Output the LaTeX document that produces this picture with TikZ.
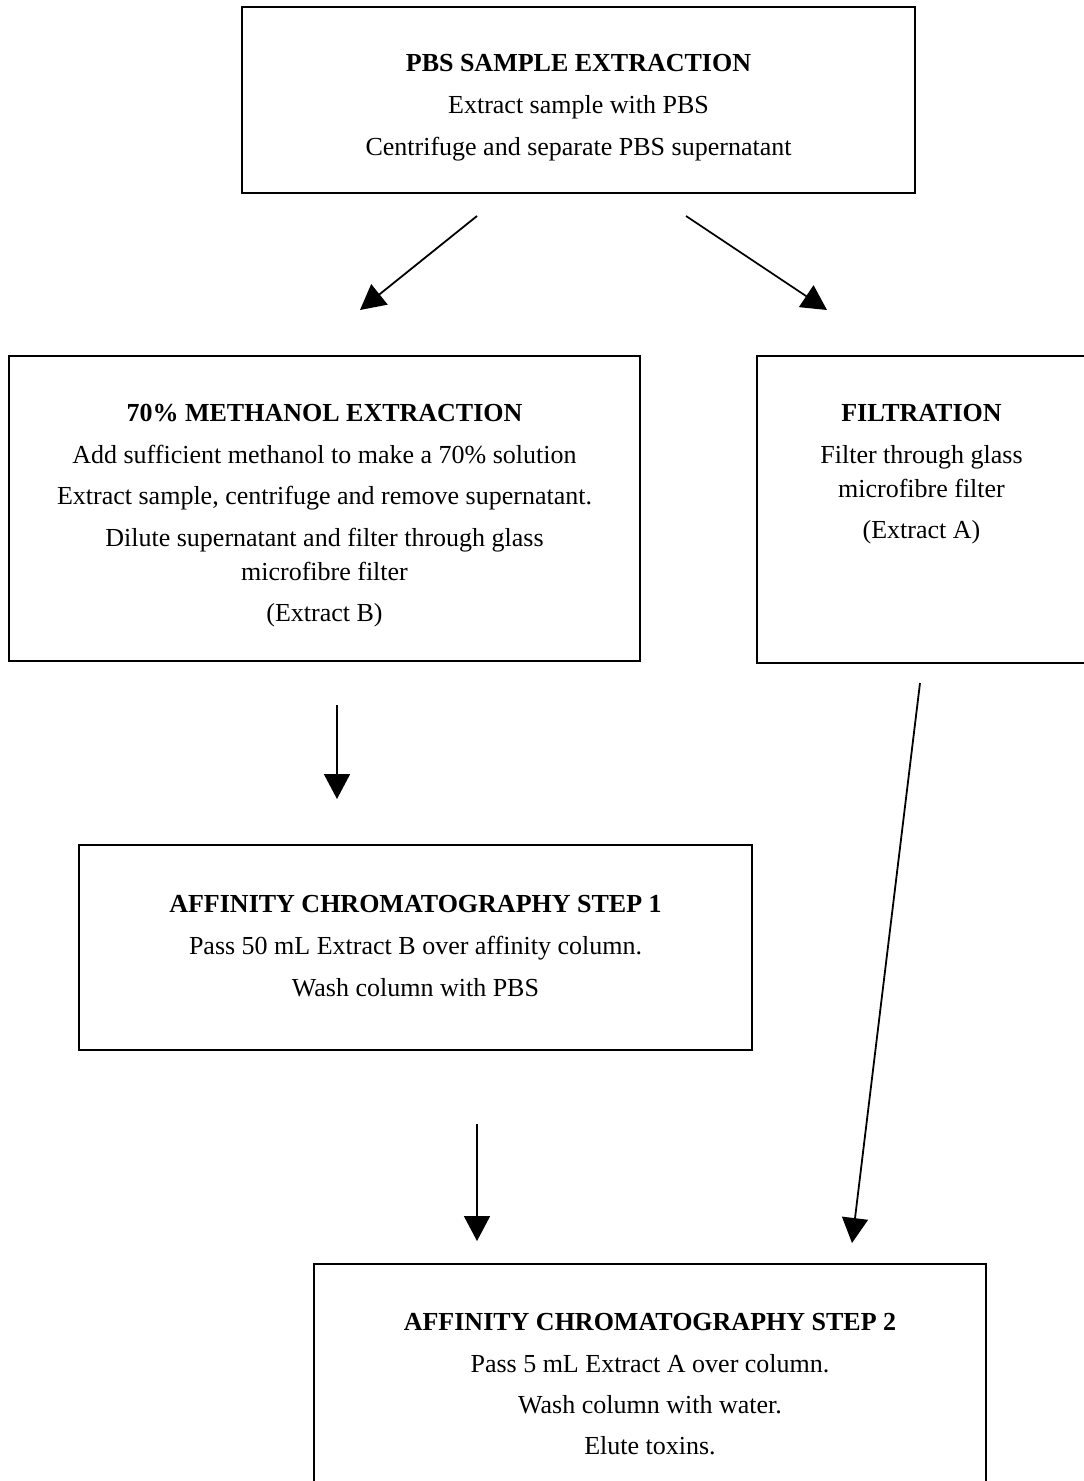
\documentclass[tikz,border=0pt]{standalone}
\usepackage{fontspec}
\setmainfont{Liberation Serif}
\usetikzlibrary{arrows.meta}
\begin{document}
\begin{tikzpicture}[x=1pt,y=-1pt,
  stepbox/.style={draw=black,line width=2.5pt,inner sep=0pt},
  txt/.style={align=center,font=\fontsize{26}{34}\selectfont,inner sep=0pt,anchor=base},
  arr/.style={line width=1.8pt,-{Triangle[length=25pt,width=26pt]}}]
\useasboundingbox (0,0) rectangle (1084,1481);
\clip (0,0) rectangle (1084,1481);
\fill[white] (0,0) rectangle (1084,1481);
% boxes
\node[stepbox,minimum width=673pt,minimum height=186pt] (pbs) at (578.5,100) {};
\node[stepbox,minimum width=631pt,minimum height=305pt] (meth) at (324.5,508.5) {};
\node[stepbox,minimum width=329pt,minimum height=307pt] (filt) at (921.5,509.5) {};
\node[stepbox,minimum width=673pt,minimum height=205pt] (ac1) at (415.5,947.5) {};
\node[stepbox,minimum width=672pt,minimum height=236pt] (ac2) at (650,1382) {};
% texts (anchor = baseline of last line)
\node[txt] (pbst) at (578.5,155) {\textbf{PBS SAMPLE EXTRACTION}\\[8pt]Extract sample with PBS\\[8pt]Centrifuge and separate PBS supernatant};
\node[txt] (metht) at (324.5,621) {\textbf{70\% METHANOL EXTRACTION}\\[8pt]Add sufficient methanol to make a 70\% solution\\[7pt]Extract sample, centrifuge and remove supernatant.\\[8pt]Dilute supernatant and filter through glass\\microfibre filter\\[7pt](Extract B)};
\node[txt] (filtt) at (921.5,538) {\textbf{FILTRATION}\\[8pt]Filter through glass\\microfibre filter\\[7pt](Extract A)};
\node[txt] (ac1t) at (415.5,996) {\textbf{AFFINITY CHROMATOGRAPHY STEP 1}\\[8pt]Pass 50 mL Extract B over affinity column.\\[8pt]Wash column with PBS};
\node[txt] (ac2t) at (650,1454) {\textbf{AFFINITY CHROMATOGRAPHY STEP 2}\\[8pt]Pass 5 mL Extract A over column.\\[7pt]Wash column with water.\\[7pt]Elute toxins.};
% connectors
\coordinate (a1s) at (477,216); \coordinate (a1e) at (360,310);
\coordinate (a2s) at (686,216); \coordinate (a2e) at (827,310);
\coordinate (a3s) at (337,705); \coordinate (a3e) at (337,799);
\coordinate (a4s) at (920,683); \coordinate (a4e) at (852,1243);
\coordinate (a5s) at (477,1124); \coordinate (a5e) at (477,1241);
\draw[arr] (a1s) -- (a1e);
\draw[arr] (a2s) -- (a2e);
\draw[arr] (a3s) -- (a3e);
\draw[arr] (a4s) -- (a4e);
\draw[arr] (a5s) -- (a5e);
\end{tikzpicture}
\end{document}
